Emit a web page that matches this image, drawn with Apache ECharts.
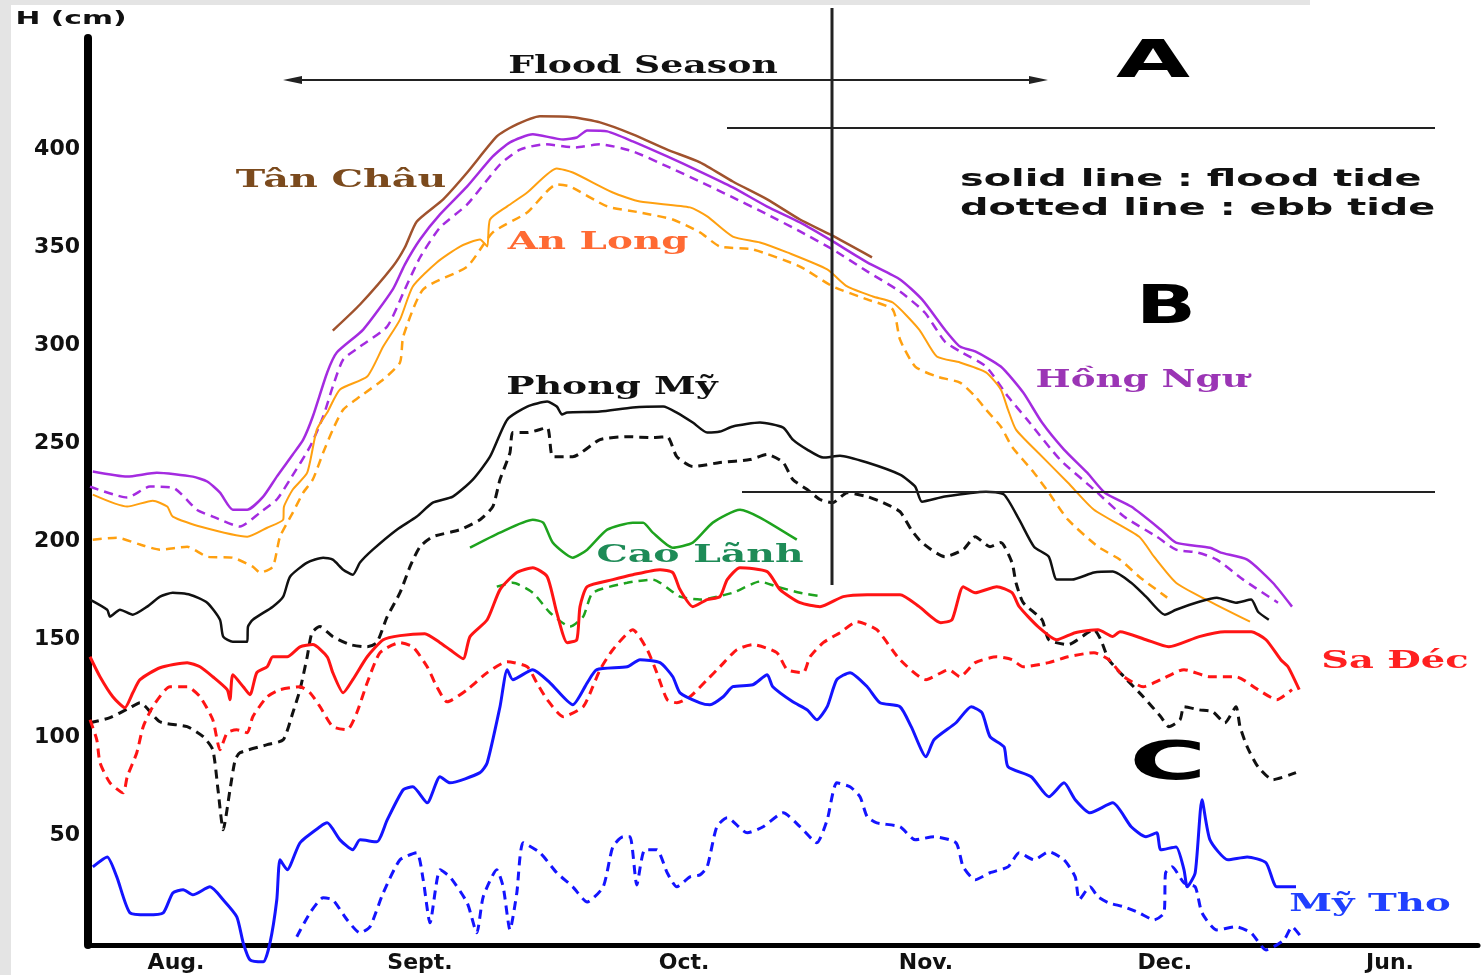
<!DOCTYPE html>
<html>
<head>
<meta charset="utf-8">
<script src="https://cdn.jsdelivr.net/npm/echarts@6/dist/echarts.min.js"></script>
<style>
  html, body { margin: 0; padding: 0; background: #fff; }
  #chart { width: 1483px; height: 975px; }
</style>
</head>
<body>
<div id="chart"></div>
<script>
// x = days from the start of the record, y = water level H (cm)
const monthTicks = [11, 41.5, 74.5, 104.75, 134.6, 162.75];
const monthLabels = ['Aug.', 'Sept.', 'Oct.', 'Nov.', 'Dec.', 'Jun.'];
const levelTicks = [50, 100, 150, 200, 250, 300, 350, 400];

const tanChau = [[30.6,307.6],[34,320.9],[38.1,340.3],[39.6,350],[41.1,363.3],[44.4,374.6],[47.4,388.3],[51.1,406.7],[53.1,411.9],[56.5,417],[60.6,416.5],[64,413.9],[68.1,407.8],[72.4,400],[76.5,393.5],[80.6,383.7],[84.9,374.6],[89,364.3],[92.75,356.7],[98,345]];

const hongNguFlood = [[0.6,235.6],[4.9,233],[8.6,235],[13.1,233],[14.9,230.5],[16.5,224.8],[18.1,216.1],[19.9,216.1],[21.9,222.8],[23.6,233],[25.6,244.3],[26.9,251.9],[28.1,263.7],[29.9,286.2],[31.1,296.4],[34.4,308.1],[38.1,328.6],[39.6,341.3],[41.5,354.1],[44,366.9],[47.4,381.2],[50.6,396.5],[52.75,403.7],[55.6,407.8],[59.4,405.2],[61.1,406.2],[62.4,409.8],[64.9,409.3],[68.1,404.2],[72.4,396.5],[76.5,388.8],[80.6,380.7],[84.9,370.9],[89,362.8],[93.1,353.1],[97.4,342.4],[101.5,333.7],[104.25,323.5],[107.1,308.1],[109,299.4],[110.9,296.9],[114.1,289.2],[116.9,275.9],[119.25,260.6],[122,246.8],[124.9,235],[127.1,224.8],[130.4,217.7],[134.1,205.9],[136,199.3],[140.25,196.7],[141.6,194.2],[144.9,190.6],[148.1,178.8],[150.5,166.6]];
const hongNguEbb = [[0.25,227.9],[4.9,222.3],[7.75,227.9],[10.6,227.4],[13.6,216.1],[15.6,212.6],[19,207.5],[21.5,214.6],[23.6,221.3],[25.25,231.5],[27.75,248.3],[29.4,263.7],[30.6,279],[31.9,292.8],[34,299.4],[37.4,309.7],[39.6,328.6],[41.5,344.9],[44,360.2],[47.4,372],[51.5,392.4],[54,400],[57.1,402.7],[60.9,401.1],[64,402.7],[68.1,399.1],[72.4,391.4],[76.5,383.7],[80.6,375.6],[84.9,366.9],[89,358.2],[93.1,349],[97.4,337.8],[101.5,327.5],[104.6,316.8],[107.1,302],[109,296.9],[112.25,289.2],[115,273.9],[117.4,262.1],[121.5,241.7],[125.75,226.4],[129.5,212.6],[133.6,202.3],[136,195.7],[138.75,194.2],[141.1,190.6],[144.4,180.4],[148.75,168.6]];

const anLongFlood = [[0.6,223.8],[4.9,217.7],[8.1,220.7],[9.9,217.7],[10.6,212.6],[14,207.5],[19.9,202.3],[22.4,206.9],[24.4,211],[24.5,217.7],[25.6,226.4],[27.4,235],[28.6,257],[29.9,265.7],[31.5,277.5],[34.9,284.1],[36.9,299.4],[39,313.2],[40.6,330.1],[43.6,342.4],[46.5,350.5],[49,354.1],[49.9,350.5],[50.25,364.3],[52.4,371],[54.9,378.1],[58.6,390.4],[60.6,388.3],[65.6,378.1],[69,373.5],[75.25,370.5],[77.4,365.9],[80.6,355.6],[84,352.6],[87.4,347.5],[92.4,338.8],[94.9,330.1],[98.1,325],[100.6,321.9],[103.9,308.1],[106.1,294.3],[109,291.3],[112.25,286.2],[114.1,277.5],[115,267.2],[116,257],[118.75,245.3],[122.5,229.9],[125.75,216.1],[131.4,202.3],[133.25,192.1],[136,178.8],[139.75,170.2],[145.25,158.9]];
const anLongEbb = [[0.6,200.8],[3.6,201.8],[6.5,198.3],[9,195.7],[12.4,197.2],[14.9,192.1],[18.1,191.6],[20.6,187],[21.5,184],[23.1,187],[24,202.3],[25.6,214.6],[26.9,224.8],[28.1,231.5],[29.4,245.3],[30.6,257],[31.9,267.2],[34,273.9],[36.9,282.6],[39,291.3],[39.4,304.5],[41.9,328.6],[47.4,340.3],[50.6,357.7],[54.9,367.9],[58.6,382.2],[60.25,381.2],[64.9,371],[69,367.9],[73.1,364.3],[76.5,357.7],[79,350.5],[83.1,349],[89,340.3],[93.1,330.1],[97.4,323.5],[100.6,318.3],[101.5,303],[103.4,289.2],[106.1,284.1],[109,281],[110.9,273.9],[112.25,267.2],[114.1,258.6],[115.5,248.3],[118.25,235],[120.1,224.8],[122.5,211],[126.25,197.2],[129,190.6],[131.4,181.9],[134.9,171.2]];

const phongMyFlood = [[0.25,170.2],[2.4,165],[2.75,161.5],[4,165],[5.6,162.5],[7.4,166.6],[9,171.7],[10.6,173.7],[12.75,172.7],[14.9,168.6],[16.5,159.9],[16.9,151.3],[18.1,148.7],[19.9,148.7],[20,156.4],[20.6,159.9],[23.1,166.6],[24.4,171.7],[25.25,181.9],[27.4,189.1],[29.4,191.6],[30.6,190.6],[31.9,185.5],[33.1,182.9],[34,189.1],[35.6,195.7],[38.6,205.9],[41.1,212.6],[43.1,219.7],[45.6,222.8],[48.1,231.5],[50.25,243.2],[52.4,262.1],[54.9,268.8],[57.4,271.3],[58.6,268.8],[59.25,264.7],[59.9,265.7],[64,266.2],[68.1,268.3],[71.9,268.8],[73.6,265.7],[75.6,260.6],[77.4,255.5],[79,256],[80.6,258.6],[84,260.6],[86.9,258],[88.1,251.9],[89.9,246.8],[91.9,242.7],[94,243.7],[97.4,240.2],[101.5,234],[103.4,227.9],[104.25,220.2],[107.1,222.8],[112.25,225.3],[114.5,223.8],[116.4,211],[118.25,197.2],[120.1,192.1],[121.1,180.4],[123,180.4],[125.75,184],[128.1,184.5],[130.4,178.8],[132.25,171.7],[134.6,162.5],[136,165],[138.9,169.1],[141.1,171.2],[143.5,168.6],[145.4,170.2],[146.25,164],[147.6,159.9]];
const phongMyEbb = [[0.25,107.3],[2.75,109.9],[5.25,115],[6.5,117.5],[9,107.8],[12.4,105.3],[14.4,100.2],[15.6,93.5],[16.25,73.1],[16.9,52.6],[17.75,73.1],[18.4,88.4],[19,92],[22.4,96.1],[24.4,98.6],[25.6,112.4],[26.5,124.2],[27.4,141],[28,153.3],[29,156.4],[30.6,151.3],[32.75,147.2],[34.9,146.1],[36.1,148.2],[37.4,161.5],[39,173.7],[40.25,187],[41.5,197.2],[43.1,202.3],[46.5,205.9],[49,211],[50.6,217.7],[51.5,231.5],[52.75,245.3],[53.1,255.5],[54.9,255.5],[57.4,258],[58.1,243.2],[60.6,243.2],[64,251.9],[67.4,253.4],[70.6,252.9],[72.4,253.4],[73.6,243.2],[75.6,238.1],[79,240.2],[82.75,241.7],[84.9,244.3],[86.9,240.2],[88.1,231.5],[89.9,226.4],[91.5,221.3],[93.1,219.7],[94.9,224.8],[97.4,222.8],[99.4,219.7],[101.5,215.1],[102.9,205.9],[104.25,199.3],[107.1,192.1],[109.4,195.7],[110.9,202.3],[112.75,197.2],[114.1,199.3],[115.5,189.1],[116,178.8],[116.9,168.6],[119.25,159.9],[120.1,149.7],[122.5,147.2],[125.75,154.8],[126.6,149.7],[127.6,139.5],[129.5,130.8],[131.9,120.6],[134.1,110.4],[135.1,105.3],[136.5,108.8],[137,115.5],[138.9,113.9],[140.6,112.9],[142.1,107.3],[143.5,115.5],[144,105.3],[144.9,95],[146.25,84.8],[148.1,78.2],[151,81.8]];

const caoLanhFlood = [[47.75,196.7],[51.5,204.4],[55.6,211],[56.9,209.5],[58.1,199.3],[60.6,191.6],[62.4,195.7],[64.9,205.9],[68.1,209.5],[69.4,209.5],[70.6,204.4],[73.1,196.7],[75.6,199.3],[78.1,209.5],[81.5,216.1],[84,212.1],[88.6,200.8]];
const caoLanhEbb = [[51.1,176.8],[53.1,178.8],[55.6,173.7],[57.75,163.5],[60.25,156.4],[61.9,161.5],[63.1,173.7],[67.4,178.8],[70.6,180.4],[74,171.7],[76.5,170.2],[80.6,173.7],[84,179.4],[86.1,176.8],[89,173.7],[91.9,171.7]];

const saDecFlood = [[0.25,141],[1.5,130.8],[3.1,120.6],[4.6,115],[5.6,122.6],[6.5,129.3],[9,135.4],[12.4,138],[14,135.9],[15.6,130.8],[17.4,124.2],[17.75,119.1],[18.1,131.8],[19.4,125.7],[20.25,121.6],[21.1,132.9],[22.4,135.9],[23.1,141],[24.9,141],[26.5,146.1],[28.1,147.2],[29.9,141],[30.6,132.9],[31.9,122.6],[33.1,129.3],[34.9,141],[36.9,149.7],[39,151.8],[42.1,152.8],[44,148.2],[45.25,144.6],[46.9,140],[47.75,151.3],[49.9,159.9],[51.5,175.3],[53.6,184],[55.6,186.5],[57.4,181.9],[58.6,163.5],[59.9,148.2],[61.1,149.7],[61.5,166.6],[62.4,176.8],[65.6,180.4],[68.1,182.9],[71.5,185.5],[73.1,184],[74,175.3],[75.6,166.6],[77.4,170.2],[79,171.7],[79.9,180.4],[81.5,186.5],[84.9,184.5],[86.5,175.3],[89,168.6],[91.5,166.6],[94.4,171.7],[97.4,172.7],[101.5,172.7],[103.9,166.6],[106.6,158.4],[108,159.9],[109.4,176.8],[110.9,173.7],[113.6,176.8],[115.5,173.7],[116.4,166.6],[118.75,156.4],[121.1,149.7],[123.4,153.3],[126.25,154.8],[128.1,151.3],[129,153.8],[132.25,149.7],[135.1,146.1],[138.9,151.3],[142.1,153.8],[145.4,153.8],[147.25,149.7],[149.1,139.5],[150,135.9],[151.4,124.2]];
const saDecEbb = [[0.25,108.8],[1.1,98.6],[1.5,86.9],[2.75,76.6],[4.4,71.5],[4.9,79.7],[6.1,92],[6.9,105.3],[8.1,115.5],[10.25,125.7],[12.4,125.7],[14,120.6],[15.6,108.8],[16.5,93.5],[17.4,102.2],[18.6,103.7],[19.9,102.2],[20.6,110.4],[22.4,120.6],[24,124.2],[26.5,125.7],[27.75,122.6],[29,115.5],[30.6,105.3],[32.4,103.7],[33.6,112.4],[34.9,127.7],[36.5,143.1],[39,148.2],[40.6,146.1],[42.4,135.9],[43.6,125.7],[44.9,118],[47.4,124.2],[49.9,132.9],[52.4,138.5],[54.9,135.9],[56.1,127.7],[57.4,119.1],[59.4,110.4],[61.9,115.5],[63.1,125.7],[64,134.4],[65.6,144.6],[68.1,154.8],[69.9,144.6],[71.1,132.9],[72.4,119.1],[73.6,117.5],[75.25,120.6],[77.4,129.3],[79,135.9],[81.1,144.6],[83.1,147.2],[86.1,143.1],[87.4,134.4],[89.4,132.9],[90.25,141],[91.9,148.2],[94,153.3],[96.1,158.9],[98.6,154.8],[101.5,139.5],[104.75,129.3],[107.6,134.4],[109,130.8],[110.9,138],[113.6,141],[115.5,139.5],[116.9,135.9],[120.1,138],[122.5,141],[125.75,143.1],[127.6,139.5],[129.5,130.8],[131.9,125.7],[134.1,129.3],[137,134.4],[140.25,130.8],[143.5,130.8],[146.25,124.2],[148.6,119.1],[150.5,124.2]];

const myThoFlood = [[0.6,33.7],[2.4,38.8],[3.6,28.6],[5.25,10.2],[7.4,9.2],[9.4,10.2],[10.6,20.4],[11.9,22],[13.1,19.4],[15.25,23.5],[16.9,16.9],[18.6,8.2],[19.4,-5.1],[20.25,-13.8],[21.9,-14.8],[22.75,-5.1],[23.6,16.9],[24,37.3],[24.9,32.2],[26.5,46],[29,54.2],[29.9,56.2],[31.5,47.5],[33.1,42.4],[34,47.5],[36.1,46.5],[37.4,57.7],[39.4,73.1],[40.6,74.6],[42.4,66.4],[44,79.7],[45.25,76.6],[49,81.8],[49.9,86.9],[51.5,115.5],[52.4,134.4],[53.1,129.3],[55.6,134.4],[57.75,127.7],[60.6,116.5],[62.4,127.7],[63.6,134.4],[67.4,135.9],[69,139.5],[71.5,138],[73.1,130.8],[74,122.6],[76.5,117.5],[77.75,116.5],[79.4,120.6],[80.6,125.7],[83.1,126.7],[84.9,131.8],[85.6,125.7],[88.1,118],[89.9,113.9],[91.1,108.8],[92.4,115.5],[93.6,129.3],[95.25,132.9],[97.4,125.7],[99,117.5],[101.5,115.5],[102.9,105.3],[104.75,89.9],[105.75,98.6],[108.5,107.3],[110.4,115.5],[111.75,112.4],[112.75,100.2],[114.5,95],[115,84.8],[117.9,79.7],[120.1,69.5],[122,76.6],[123.4,68],[125.25,61.3],[128.1,66.4],[130.4,54.2],[132.25,49.1],[133.6,51.1],[134.1,42.4],[136,43.9],[137,32.2],[137.4,23.5],[138.4,30.7],[139.25,68],[140.25,47.5],[142.5,37.3],[144.9,38.8],[147.25,35.8],[148.6,23.5],[151,23.5]];
const myThoEbb = [[26.1,-2],[27.75,10.2],[29.4,17.9],[30.6,16.9],[32.4,6.6],[34,0],[35.25,3.1],[36.9,20.4],[39,37.3],[41.1,40.9],[41.9,27.1],[42.75,5.1],[44,32.2],[45.25,28.6],[47.4,15.3],[48.6,0],[49.4,18.4],[51.1,32.2],[51.9,23.5],[52.75,1.5],[53.6,20.4],[54.4,46],[56.5,40.9],[58.6,30.7],[60.6,23.5],[62.4,15.8],[64.4,23.5],[65.6,43.9],[66.9,49.1],[67.75,49.1],[68.6,24.5],[69.6,42.4],[71.1,42.4],[72.4,30.7],[73.6,23.5],[75.25,28.6],[76.5,29.6],[77.4,33.7],[78.6,54.2],[79.9,58.8],[82.4,51.1],[84.4,54.2],[86.9,61.3],[89,54.2],[91.1,46],[92.4,57.7],[93.6,76.6],[95.25,74.6],[96.5,69.5],[97.4,59.3],[98.6,56.2],[101.5,54.2],[103.4,47.5],[105.75,49.1],[108.5,46],[109.4,33.7],[110.9,27.1],[112.75,30.7],[115,33.7],[116.4,40.9],[118.25,37.3],[120.1,41.4],[122,37.3],[123.4,28.6],[123.9,16.9],[125.25,23.5],[126.25,18.4],[127.6,15.3],[129.5,13.3],[131.4,10.2],[133.25,6.6],[134.5,10.2],[134.7,30.7],[135.5,33.7],[137,25.5],[138.4,23.5],[139.25,10.2],[141.1,1.5],[143.5,3.1],[145.4,0],[147.25,-8.7],[149.5,-3.6],[150.5,3.1],[151.9,-3.6]];

const chart = echarts.init(document.getElementById('chart'));

const dash = [9, 6];
function line(name, data, color, width, dashed) {
  return {
    name: name,
    type: 'line',
    data: data,
    showSymbol: false,
    smooth: 0.2,
    clip: false,
    lineStyle: { color: color, width: width, type: dashed ? dash : 'solid' },
    z: dashed ? 3 : 4
  };
}

const serifFont = (size) => 'bold ' + size + 'px "DejaVu Serif"';
const sansFont = (size) => 'bold ' + size + 'px "DejaVu Sans"';

function label(text, x, y, font, color, sx, align) {
  return {
    type: 'text', x: x, y: y, scaleX: sx, z: 20,
    style: { text: text, font: font, fill: color, textAlign: align || 'center', textVerticalAlign: 'middle' }
  };
}

const option = {
  backgroundColor: '#fff',
  animation: false,
  grid: { left: 88, right: 5, top: 38, bottom: 30 },
  xAxis: {
    type: 'value',
    min: 0,
    max: 173.75,
    axisLine: { onZero: false, lineStyle: { color: '#000', width: 5 } },
    axisTick: { show: false },
    splitLine: { show: false },
    axisLabel: {
      customValues: monthTicks,
      margin: 7,
      color: '#111',
      fontFamily: 'DejaVu Sans',
      fontWeight: 'bold',
      fontSize: 22,
      formatter: function (v) {
        let best = 0;
        monthTicks.forEach(function (t, i) {
          if (Math.abs(t - v) < Math.abs(monthTicks[best] - v)) best = i;
        });
        return monthLabels[best];
      }
    }
  },
  yAxis: {
    type: 'value',
    min: -6.2,
    max: 457,
    axisLine: { show: true, onZero: false, lineStyle: { color: '#000', width: 8 } },
    axisTick: { show: false },
    splitLine: { show: false },
    axisLabel: {
      customValues: levelTicks,
      margin: 8,
      color: '#111',
      fontFamily: 'DejaVu Sans',
      fontWeight: 'bold',
      fontSize: 22
    }
  },
  series: [
    line('Tân Châu', tanChau, '#a0522d', 2.5, false),
    line('Hồng Ngự flood', hongNguFlood, '#a42be0', 2.5, false),
    line('Hồng Ngự ebb', hongNguEbb, '#a42be0', 2.5, true),
    line('An Long flood', anLongFlood, '#ffa010', 2, false),
    line('An Long ebb', anLongEbb, '#ffa010', 2.5, true),
    line('Phong Mỹ flood', phongMyFlood, '#111', 2.5, false),
    line('Phong Mỹ ebb', phongMyEbb, '#111', 3, true),
    line('Cao Lãnh flood', caoLanhFlood, '#1ea31e', 2.5, false),
    line('Cao Lãnh ebb', caoLanhEbb, '#1ea31e', 2.5, true),
    line('Sa Đéc flood', saDecFlood, '#ff1414', 3, false),
    line('Sa Đéc ebb', saDecEbb, '#ff1414', 3, true),
    line('Mỹ Tho flood', myThoFlood, '#1414ff', 3, false),
    line('Mỹ Tho ebb', myThoEbb, '#1414ff', 3, true)
  ],
  graphic: [
    { type: 'rect', z: 0, shape: { x: 0, y: 0, width: 11, height: 975 }, style: { fill: '#e4e4e4' } },
    { type: 'rect', z: 0, shape: { x: 0, y: 0, width: 1310, height: 5 }, style: { fill: '#e4e4e4' } },
    // reference lines
    { type: 'line', z: 15, shape: { x1: 832, y1: 8, x2: 832, y2: 585 }, style: { stroke: '#222', lineWidth: 3 } },
    { type: 'line', z: 15, shape: { x1: 727, y1: 128, x2: 1435, y2: 128 }, style: { stroke: '#222', lineWidth: 2 } },
    { type: 'line', z: 15, shape: { x1: 742, y1: 492, x2: 1435, y2: 492 }, style: { stroke: '#222', lineWidth: 2 } },
    // flood season arrow
    { type: 'line', z: 15, shape: { x1: 295, y1: 80, x2: 1036, y2: 80 }, style: { stroke: '#222', lineWidth: 2 } },
    { type: 'polygon', z: 15, shape: { points: [[283, 80], [302, 76], [302, 84]] }, style: { fill: '#222' } },
    { type: 'polygon', z: 15, shape: { points: [[1048, 80], [1029, 76], [1029, 84]] }, style: { fill: '#222' } },
    label('H (cm)', 71, 20, sansFont(17), '#111', 1.75),
    label('Flood Season', 643, 66, serifFont(25), '#111', 1.45),
    label('A', 1153, 63, sansFont(52), '#000', 1.84),
    label('B', 1166, 309, sansFont(54), '#000', 1.46),
    label('C', 1168, 765, sansFont(54), '#000', 1.95),
    label('solid line : flood tide', 960, 180, sansFont(23), '#111', 1.73, 'left'),
    label('dotted line : ebb tide', 960, 209, sansFont(23), '#111', 1.73, 'left'),
    label('Tân Châu', 341, 181, serifFont(24), '#7b4a1d', 1.65),
    label('An Long', 598, 243, serifFont(24), '#ff6a33', 1.62),
    label('Phong Mỹ', 612, 388, serifFont(24), '#111', 1.57),
    label('Hồng Ngư', 1142, 381, serifFont(24), '#9b35b5', 1.55),
    label('Cao Lãnh', 700, 556, serifFont(24), '#1e8b57', 1.64),
    label('Sa Đéc', 1395, 662, serifFont(24), '#ff2020', 1.6),
    label('Mỹ Tho', 1370, 905, serifFont(24), '#2040ff', 1.61)
  ]
};

chart.setOption(option);
</script>
</body>
</html>
